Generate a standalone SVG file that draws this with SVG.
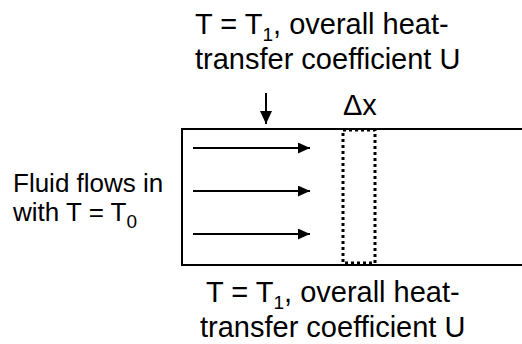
<svg xmlns="http://www.w3.org/2000/svg" width="522" height="344" viewBox="0 0 522 344">
<defs>
<style>
text{font-family:"Liberation Sans",Arial,sans-serif;font-size:29px;fill:#000}
.sub{font-size:19px}
.side{font-size:26px}
.line{stroke:#000;stroke-width:2;fill:none}
.dash{stroke:#000;stroke-width:3;fill:none;stroke-dasharray:3 3}
</style>
<marker id="ah" viewBox="0 0 10 10" refX="10" refY="5" markerWidth="12" markerHeight="11" markerUnits="userSpaceOnUse" orient="auto" preserveAspectRatio="none">
<path d="M0,0 L10,5 L0,10 z" fill="#000"/>
</marker>
<marker id="ahd" viewBox="0 0 10 10" refX="10" refY="5" markerWidth="13" markerHeight="12" markerUnits="userSpaceOnUse" orient="auto" preserveAspectRatio="none">
<path d="M0,0 L10,5 L0,10 z" fill="#000"/>
</marker>
</defs>
<g id="pipe">
<path class="line" d="M522,129 H182 V265 H522"/>
</g>
<g id="element">
<rect class="dash" x="343" y="130" width="32" height="133"/>
<text x="343" y="115" font-size="28">Δx</text>
</g>
<g id="top-label">
<text x="195" y="34">T = T<tspan class="sub" dy="7">1</tspan><tspan dy="-7">, overall heat-</tspan></text>
<text x="195" y="69">transfer coefficient U</text>
</g>
<g id="bottom-label">
<text x="206" y="302">T = T<tspan class="sub" dy="7">1</tspan><tspan dy="-7">, overall heat-</tspan></text>
<text x="200" y="337">transfer coefficient U</text>
</g>
<g id="inlet-label">
<text class="side" x="13" y="192">Fluid flows in</text>
<text class="side" x="13" y="221">with T = T<tspan class="sub" dy="7">0</tspan></text>
</g>
<g id="connectors">
<line class="line" x1="266" y1="93" x2="266" y2="124" marker-end="url(#ahd)"/>
<line class="line" x1="193" y1="148" x2="310" y2="148" marker-end="url(#ah)"/>
<line class="line" x1="193" y1="191" x2="310" y2="191" marker-end="url(#ah)"/>
<line class="line" x1="193" y1="234" x2="310" y2="234" marker-end="url(#ah)"/>
</g>
</svg>
